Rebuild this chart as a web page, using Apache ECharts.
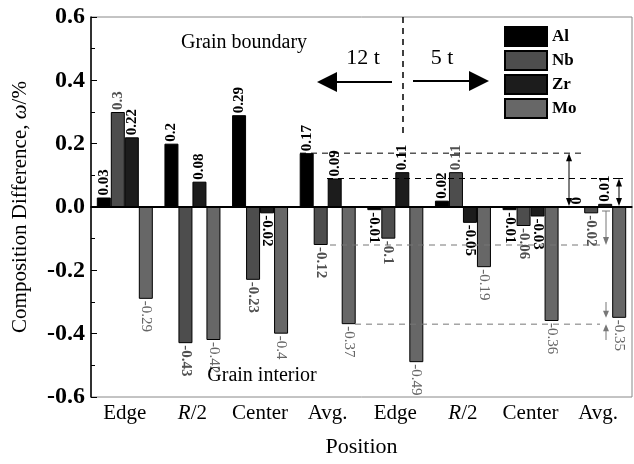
<!DOCTYPE html>
<html>
<head>
<meta charset="utf-8">
<script src="https://cdn.jsdelivr.net/npm/echarts@6/dist/echarts.min.js"></script>
<style>
  html, body { margin: 0; padding: 0; background: #fff; }
  #main { width: 634px; height: 464px; }
</style>
</head>
<body>
<div id="main"></div>
<script>
var categories = ['Edge', 'R/2', 'Center', 'Avg.', 'Edge', 'R/2', 'Center', 'Avg.']
var elements = ['Al', 'Nb', 'Zr', 'Mo']
var al = [0.03, 0.2, 0.29, 0.17, -0.01, 0.02, -0.01, 0]
var nb = [0.3, -0.43, -0.23, -0.12, -0.1, 0.11, -0.06, -0.02]
var zr = [0.22, 0.08, -0.02, 0.09, 0.11, -0.05, -0.03, 0.01]
var mo = [-0.29, -0.42, -0.4, -0.37, -0.49, -0.19, -0.36, -0.35]
// reference levels marked with dashed lines (Avg. values of the 12 t sample)
var refLevels = [0.17, 0.09, -0.12, -0.37]

var FONT = 'Liberation Serif'
var colors = ['#000000', '#4d4d4d', '#1c1c1c', '#676767']
var labelColors = ['#000', '#505050', '#000', '#666']
var labelWeights = ['bold', 'bold', 'bold', 'normal']

var chartDom = document.getElementById('main')
var myChart = echarts.init(chartDom)
var option

function makeData(values, i) {
  return values.map(function (v) {
    var neg = v < 0
    return {
      value: v,
      label: {
        show: true,
        position: neg ? 'bottom' : 'top',
        rotate: neg ? -90 : 90,
        align: 'left',
        verticalAlign: 'middle',
        distance: 2,
        color: labelColors[i],
        fontWeight: labelWeights[i],
        fontFamily: FONT,
        fontSize: 15,
        formatter: function (p) { return String(p.value) }
      }
    }
  })
}

var seriesValues = [al, nb, zr, mo]
var series = seriesValues.map(function (vals, i) {
  return {
    name: elements[i],
    type: 'bar',
    barWidth: 14,
    barGap: '0%',
    itemStyle: { color: colors[i], borderColor: '#000', borderWidth: 1 },
    data: makeData(vals, i)
  }
})
series[0].markLine = {
  silent: true,
  symbol: 'none',
  label: { show: false },
  lineStyle: { color: '#000', width: 2, type: 'solid' },
  data: [{ yAxis: 0 }]
}

option = {
  animation: false,
  grid: {
    left: 91, right: 2, top: 17, bottom: 67,
    show: true, borderColor: '#888', borderWidth: 1
  },
  legend: {
    orient: 'vertical',
    left: 499, top: 21,
    itemWidth: 42, itemHeight: 19, itemGap: 3,
    icon: 'rect',
    textStyle: { fontFamily: FONT, fontWeight: 'bold', fontSize: 17, color: '#000' },
    data: elements
  },
  xAxis: {
    type: 'category',
    data: categories,
    name: 'Position',
    nameLocation: 'middle',
    nameGap: 39,
    nameTextStyle: { fontFamily: FONT, fontSize: 22, color: '#000' },
    axisLine: { lineStyle: { color: '#000', width: 1.5 } },
    axisTick: { inside: true, alignWithLabel: true, length: 5, lineStyle: { color: '#000' } },
    axisLabel: {
      interval: 0,
      hideOverlap: false,
      margin: 6,
      color: '#000',
      fontFamily: FONT,
      fontSize: 21,
      formatter: function (v) { return v === 'R/2' ? '{i|R}/2' : v },
      rich: { i: { fontStyle: 'italic', fontFamily: FONT, fontSize: 21, color: '#000' } }
    }
  },
  yAxis: {
    type: 'value',
    min: -0.6, max: 0.6, interval: 0.2,
    name: 'Composition Difference, {i|ω}/%',
    nameLocation: 'middle',
    nameGap: 60,
    nameTextStyle: {
      fontFamily: FONT, fontSize: 21, color: '#000',
      rich: { i: { fontStyle: 'italic', fontFamily: FONT, fontSize: 21, color: '#000' } }
    },
    axisLine: { show: true, lineStyle: { color: '#000', width: 1.5 } },
    axisTick: { show: true, inside: true, length: 6, lineStyle: { color: '#000' } },
    minorTick: { show: true, splitNumber: 2, length: 4, lineStyle: { color: '#000' } },
    splitLine: { show: false },
    axisLabel: {
      margin: 6,
      color: '#000',
      fontFamily: FONT,
      fontWeight: 'bold',
      fontSize: 24,
      formatter: function (v) { return v.toFixed(1) }
    }
  },
  series: series
}

option && myChart.setOption(option)

// annotations
function py(v) { return myChart.convertToPixel({ yAxisIndex: 0 }, v) }
function head(x, y, dir, len, half, color) {
  var pts
  if (dir === 'left') pts = [[x, y], [x + len, y - half], [x + len, y + half]]
  if (dir === 'right') pts = [[x, y], [x - len, y - half], [x - len, y + half]]
  if (dir === 'up') pts = [[x, y], [x - half, y + len], [x + half, y + len]]
  if (dir === 'down') pts = [[x, y], [x - half, y - len], [x + half, y - len]]
  return { type: 'polygon', shape: { points: pts }, style: { fill: color }, z: 10 }
}
function line(x1, y1, x2, y2, color, dash, w) {
  return {
    type: 'line', z: 10,
    shape: { x1: x1, y1: y1, x2: x2, y2: y2 },
    style: { stroke: color, lineWidth: w || 1, lineDash: dash ? [6, 5] : null }
  }
}
function text(x, y, s, size) {
  return {
    type: 'text', x: x, y: y, z: 10,
    style: { text: s, font: size + 'px "' + FONT + '"', fill: '#000', textAlign: 'center', textVerticalAlign: 'middle' }
  }
}

var y0 = py(0)
var g = []
g.push(text(244, 43, 'Grain boundary', 20))
g.push(text(262, 376, 'Grain interior', 20))
g.push(text(363, 58, '12 t', 22))
g.push(text(442, 58, '5 t', 22))
// division line
g.push(line(403, 17, 403, 136, '#000', true, 1.5))
// big arrows
g.push(line(392, 82, 330, 82, '#000', false, 2))
g.push(head(317, 82, 'left', 20, 10, '#000'))
g.push(line(413, 81, 475, 81, '#000', false, 2))
g.push(head(489, 81, 'right', 20, 10, '#000'))
// reference dashed lines
g.push(line(300, py(refLevels[0]), 582, py(refLevels[0]), '#000', true, 1))
g.push(line(327, py(refLevels[1]), 624, py(refLevels[1]), '#000', true, 1))
g.push(line(330, py(refLevels[2]), 605, py(refLevels[2]), '#777', true, 1))
g.push(line(355, py(refLevels[3]), 600, py(refLevels[3]), '#777', true, 1))
// dimension arrows
g.push(line(569, py(refLevels[0]) + 4, 569, y0 - 4, '#000', false, 1))
g.push(head(569, py(refLevels[0]), 'up', 8, 3, '#000'))
g.push(head(569, y0 - 1, 'down', 8, 3, '#000'))
g.push(line(619, py(refLevels[1]) + 4, 619, y0 - 4, '#000', false, 1))
g.push(head(619, py(refLevels[1]), 'up', 8, 3, '#000'))
g.push(head(619, y0 - 1, 'down', 8, 3, '#000'))
g.push(line(615, py(refLevels[1]), 623, py(refLevels[1]), '#000', false, 1))
g.push(line(606, y0 + 4, 606, py(refLevels[2]) - 4, '#777', false, 1))
g.push(line(602, y0 + 4, 610, y0 + 4, '#777', false, 1))
g.push(head(606, py(refLevels[2]), 'down', 8, 3, '#777'))
g.push(line(606, py(-0.3), 606, py(-0.35) - 4, '#777', false, 1))
g.push(head(606, py(-0.35), 'down', 7, 3, '#777'))
g.push(line(606, py(-0.42), 606, py(refLevels[3]) + 4, '#777', false, 1))
g.push(head(606, py(refLevels[3]), 'up', 7, 3, '#777'))

myChart.setOption({ graphic: g })
</script>
</body>
</html>
